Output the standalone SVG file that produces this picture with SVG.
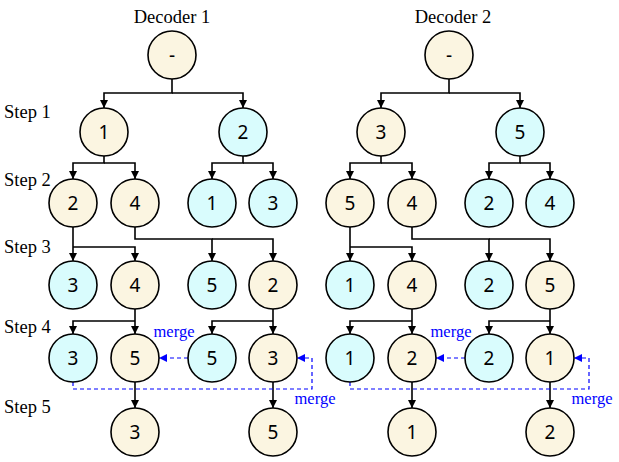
<svg xmlns="http://www.w3.org/2000/svg" width="619" height="462" viewBox="0 0 619 462">
<defs>
<marker id="ah" markerWidth="8" markerHeight="8" refX="8" refY="4" orient="auto" markerUnits="userSpaceOnUse"><path d="M0,0 L8,4 L0,8 Z" fill="#000"/></marker>
<marker id="ahb" markerWidth="8" markerHeight="8" refX="8" refY="4" orient="auto" markerUnits="userSpaceOnUse"><path d="M0,0 L8,4 L0,8 Z" fill="#0000FF"/></marker>
</defs>
<style>
.c{fill:#FBF5E1;stroke:#000;stroke-width:1.6}
.b{fill:#D9FCFD;stroke:#000;stroke-width:1.6}
.t{font-family:"Noto Sans","Open Sans",sans-serif;font-size:19px;text-anchor:middle;fill:#000}
.l{font-family:"Liberation Serif",serif;font-size:18.5px;fill:#000}
.m{font-family:"Liberation Serif",serif;font-size:16.5px;fill:#0000FF;text-anchor:middle}
.e{fill:none;stroke:#000;stroke-width:1.6;marker-end:url(#ah)}
.d{fill:none;stroke:#0000FF;stroke-width:1.2;stroke-dasharray:4 3;marker-end:url(#ahb)}
</style>
<rect width="619" height="462" fill="#fff"/>
<g id="labels">
<text class="l" x="172" y="23" text-anchor="middle">Decoder 1</text>
<text class="l" x="453" y="23" text-anchor="middle">Decoder 2</text>
<text class="l" x="4" y="118">Step 1</text>
<text class="l" x="4" y="186">Step 2</text>
<text class="l" x="4" y="253">Step 3</text>
<text class="l" x="4" y="333">Step 4</text>
<text class="l" x="4" y="413">Step 5</text>
<text class="m" x="174" y="337">merge</text>
<text class="m" x="315" y="404">merge</text>
<text class="m" x="451" y="337">merge</text>
<text class="m" x="592" y="404">merge</text>
</g>
<g id="connectors">
<path class="e" d="M172,79 V93 H104 V108"/>
<path class="e" d="M172,93 H243 V108"/>
<path class="e" d="M104,156 V163 H73 V179"/>
<path class="e" d="M104,163 H135 V179"/>
<path class="e" d="M243,156 V163 H212 V179"/>
<path class="e" d="M243,163 H273 V179"/>
<path class="e" d="M73,227 V261"/>
<path class="e" d="M73,247 H135 V261"/>
<path class="e" d="M135,227 V239 H212 V261"/>
<path class="e" d="M212,239 H273 V261"/>
<path class="e" d="M135,309 V334"/>
<path class="e" d="M135,321 H73 V334"/>
<path class="e" d="M273,309 V334"/>
<path class="e" d="M273,321 H212 V334"/>
<path class="e" d="M135,382 V408"/>
<path class="e" d="M273,382 V408"/>
<path class="d" d="M188,358 H159"/>
<path class="d" d="M73,382 V389 H312 V358 H297"/>
<path class="e" d="M449,79 V93 H381 V108"/>
<path class="e" d="M449,93 H520 V108"/>
<path class="e" d="M381,156 V163 H350 V179"/>
<path class="e" d="M381,163 H412 V179"/>
<path class="e" d="M520,156 V163 H489 V179"/>
<path class="e" d="M520,163 H550 V179"/>
<path class="e" d="M350,227 V261"/>
<path class="e" d="M350,247 H412 V261"/>
<path class="e" d="M412,227 V239 H489 V261"/>
<path class="e" d="M489,239 H550 V261"/>
<path class="e" d="M412,309 V334"/>
<path class="e" d="M412,321 H350 V334"/>
<path class="e" d="M550,309 V334"/>
<path class="e" d="M550,321 H489 V334"/>
<path class="e" d="M412,382 V408"/>
<path class="e" d="M550,382 V408"/>
<path class="d" d="M465,358 H436"/>
<path class="d" d="M350,382 V389 H589 V358 H574"/>
</g>
<g id="d1-root"><circle class="c" cx="172" cy="55" r="24"/><text class="t" x="172" y="61.5">-</text></g>
<g id="d1-s1-a"><circle class="c" cx="104" cy="132" r="24"/><text class="t" x="104" y="139">1</text></g>
<g id="d1-s1-b"><circle class="b" cx="243" cy="132" r="24"/><text class="t" x="243" y="139">2</text></g>
<g id="d1-s2-a"><circle class="c" cx="73" cy="203" r="24"/><text class="t" x="73" y="210">2</text></g>
<g id="d1-s2-b"><circle class="c" cx="135" cy="203" r="24"/><text class="t" x="135" y="210">4</text></g>
<g id="d1-s2-c"><circle class="b" cx="212" cy="203" r="24"/><text class="t" x="212" y="210">1</text></g>
<g id="d1-s2-d"><circle class="b" cx="273" cy="203" r="24"/><text class="t" x="273" y="210">3</text></g>
<g id="d1-s3-a"><circle class="b" cx="73" cy="285" r="24"/><text class="t" x="73" y="292">3</text></g>
<g id="d1-s3-b"><circle class="c" cx="135" cy="285" r="24"/><text class="t" x="135" y="292">4</text></g>
<g id="d1-s3-c"><circle class="b" cx="212" cy="285" r="24"/><text class="t" x="212" y="292">5</text></g>
<g id="d1-s3-d"><circle class="c" cx="273" cy="285" r="24"/><text class="t" x="273" y="292">2</text></g>
<g id="d1-s4-a"><circle class="b" cx="73" cy="358" r="24"/><text class="t" x="73" y="365">3</text></g>
<g id="d1-s4-b"><circle class="c" cx="135" cy="358" r="24"/><text class="t" x="135" y="365">5</text></g>
<g id="d1-s4-c"><circle class="b" cx="212" cy="358" r="24"/><text class="t" x="212" y="365">5</text></g>
<g id="d1-s4-d"><circle class="c" cx="273" cy="358" r="24"/><text class="t" x="273" y="365">3</text></g>
<g id="d1-s5-a"><circle class="c" cx="135" cy="432" r="24"/><text class="t" x="135" y="439">3</text></g>
<g id="d1-s5-b"><circle class="c" cx="273" cy="432" r="24"/><text class="t" x="273" y="439">5</text></g>
<g id="d2-root"><circle class="c" cx="449" cy="55" r="24"/><text class="t" x="449" y="61.5">-</text></g>
<g id="d2-s1-a"><circle class="c" cx="381" cy="132" r="24"/><text class="t" x="381" y="139">3</text></g>
<g id="d2-s1-b"><circle class="b" cx="520" cy="132" r="24"/><text class="t" x="520" y="139">5</text></g>
<g id="d2-s2-a"><circle class="c" cx="350" cy="203" r="24"/><text class="t" x="350" y="210">5</text></g>
<g id="d2-s2-b"><circle class="c" cx="412" cy="203" r="24"/><text class="t" x="412" y="210">4</text></g>
<g id="d2-s2-c"><circle class="b" cx="489" cy="203" r="24"/><text class="t" x="489" y="210">2</text></g>
<g id="d2-s2-d"><circle class="b" cx="550" cy="203" r="24"/><text class="t" x="550" y="210">4</text></g>
<g id="d2-s3-a"><circle class="b" cx="350" cy="285" r="24"/><text class="t" x="350" y="292">1</text></g>
<g id="d2-s3-b"><circle class="c" cx="412" cy="285" r="24"/><text class="t" x="412" y="292">4</text></g>
<g id="d2-s3-c"><circle class="b" cx="489" cy="285" r="24"/><text class="t" x="489" y="292">2</text></g>
<g id="d2-s3-d"><circle class="c" cx="550" cy="285" r="24"/><text class="t" x="550" y="292">5</text></g>
<g id="d2-s4-a"><circle class="b" cx="350" cy="358" r="24"/><text class="t" x="350" y="365">1</text></g>
<g id="d2-s4-b"><circle class="c" cx="412" cy="358" r="24"/><text class="t" x="412" y="365">2</text></g>
<g id="d2-s4-c"><circle class="b" cx="489" cy="358" r="24"/><text class="t" x="489" y="365">2</text></g>
<g id="d2-s4-d"><circle class="c" cx="550" cy="358" r="24"/><text class="t" x="550" y="365">1</text></g>
<g id="d2-s5-a"><circle class="c" cx="412" cy="432" r="24"/><text class="t" x="412" y="439">1</text></g>
<g id="d2-s5-b"><circle class="c" cx="550" cy="432" r="24"/><text class="t" x="550" y="439">2</text></g>
</svg>
